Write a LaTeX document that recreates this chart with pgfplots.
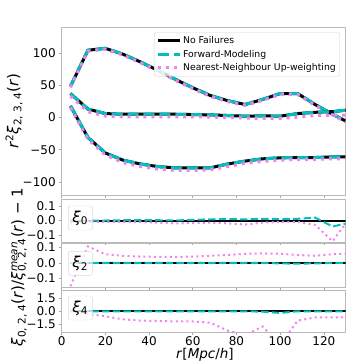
\documentclass[border=0pt]{standalone}
\usepackage{fontspec}
\setmainfont{DejaVu Sans}
\usepackage{pgfplots}
\pgfplotsset{compat=1.18}
\usepackage{pgfplotstable}

\definecolor{fwd}{RGB}{0,191,191}
\definecolor{nnup}{RGB}{238,130,238}
\newcommand\tickfont{\fontsize{12}{14}\selectfont}
\newcommand\labfont{\fontsize{15}{17}\selectfont}

% main panel: r^2 xi_l(r), l = 0 (m0), 2 (m2), 4 (m4)
\pgfplotstableread{
r    m0    m2    m4    n0     n2    n4
4    48    18    37    46.5   15    33
12   104  -31    13    102.5 -34    9
20   107  -55    6     105.5 -58    2
28   98   -66    5     96.5  -70    1
36   86   -72    5     84.5  -76    1
44   73   -76    5     71.5  -80    1
52   59   -78    5     57.5  -82    1
60   46   -78    4.5   44.5  -82    1
68   34   -78    4     32.5  -81    0.5
76   26   -72    3     24.5  -76    0
84   20   -67.5  2     18.5  -71   -1
92   28   -64    2.5   26.5  -68   -1.5
100  37   -62.5  2     35.5  -66   -1.5
108  37   -62    6     35.5  -65    0.5
116  20   -62    8     18.5  -65    3
124  5    -61    9     3.5   -64    3.5
132  -9   -61    12   -10.5  -64    3.5
}\mainT

% ratio panels: xi_l / xi_l^mean - 1
\pgfplotstableread{
r    c0      c2      c4     n0      n2      n4
4    0.0     0.0     0.0   -0.02   -0.15    0.0
12   0.0     0.0     0.0   -0.008   0.105  -0.3
20   0.0     0.0     0.0   -0.01    0.055  -0.6
28   0.002   0.0     0.0   -0.01    0.045  -0.95
36   0.003   0.0     0.0   -0.012   0.04   -1.1
44   0.002   0.0     0.0   -0.015   0.038  -1.15
52   0.0     0.0     0.0   -0.02    0.038  -1.2
60   0.005   0.0     0.0   -0.018   0.04   -1.2
68   0.008   0.0     0.0   -0.015   0.045  -1.35
76   0.01    0.0     0.0   -0.02    0.05   -2.28
84   0.008   0.0     0.0   -0.028   0.058  -2.8
92   0.012   0.0    -0.05  -0.015   0.06   -1.8
100  0.01   -0.004  -0.2   -0.01    0.058  -4.0
108  0.012  -0.005   0.0   -0.01    0.05   -1.1
116  0.02   -0.004   0.0   -0.03    0.045  -0.72
124 -0.042   0.0     0.0   -0.145   0.055  -0.72
132 -0.015   0.0     0.0    0.02    0.06   -0.7
}\ratioT

\pgfplotsset{
  base/.style={
    scale only axis, width=284pt,
    xmin=0, xmax=130, xtick={0,20,...,120},
    axis line style={gray!55, line width=0.6pt},
    every tick/.style={gray!70, line width=0.6pt},
    tick align=outside, major tick length=2.5pt, tick pos=left,
    ticklabel style={font=\tickfont},
    /pgf/number format/assume math mode=true,
  },
  nf/.style={black, line width=3pt},
  fm/.style={fwd, line width=3pt, dash pattern=on 11.1pt off 4.8pt},
  nn/.style={nnup, line width=3pt, dash pattern=on 3pt off 4.95pt},
  nfs/.style={black, line width=2pt},
  fms/.style={fwd, line width=2pt, dash pattern=on 7.4pt off 3.2pt},
  nns/.style={nnup, line width=2pt, dash pattern=on 2pt off 3.3pt},
}
\tikzset{
  tag/.style={draw=gray!30, rounded corners=2pt, fill=white, fill opacity=0.8,
    text opacity=1, minimum width=24pt, minimum height=24pt, inner sep=0pt,
    font=\labfont},
}

\begin{document}
\begin{tikzpicture}
\useasboundingbox (0pt,0pt) rectangle (354pt,-362pt);

\begin{axis}[base, at={(61.7pt,-27pt)}, anchor=north west, height=168pt,
  ymin=-120, ymax=140, ytick={-100,-50,0,50,100},
  yticklabels={−100,−50,0,50,100}, xticklabels={},
  legend cell align=left,
  legend image code/.code={\draw[#1] (0pt,0pt) -- (22pt,0pt);},
  legend style={at={(1,1)}, anchor=north east, xshift=-5.7pt, yshift=-5.3pt,
    draw=gray!35, rounded corners=2pt, fill=white, fill opacity=0.8,
    text opacity=1, font=\fontsize{9.3}{11}\selectfont, row sep=1pt,
    inner sep=2pt}]
\addplot[nf] table[x=r, y=m0] {\mainT};
\addlegendentry{No Failures}
\addplot[fm] table[x=r, y=m0] {\mainT};
\addlegendentry{Forward-Modeling}
\addplot[nn] table[x=r, y=n0] {\mainT};
\addlegendentry{Nearest-Neighbour Up-weighting}
\addplot[nf, forget plot] table[x=r, y=m2] {\mainT};
\addplot[fm, forget plot] table[x=r, y=m2] {\mainT};
\addplot[nn, forget plot] table[x=r, y=n2] {\mainT};
\addplot[nf, forget plot] table[x=r, y=m4] {\mainT};
\addplot[fm, forget plot] table[x=r, y=m4] {\mainT};
\addplot[nn, forget plot] table[x=r, y=n4] {\mainT};
\end{axis}

\begin{axis}[base, at={(61.7pt,-199pt)}, anchor=north west, height=43pt,
  ymin=-0.15, ymax=0.15, ytick={-0.1,0,0.1},
  yticklabels={−0.1,0.0,0.1}, xticklabels={}]
\addplot[nfs] coordinates {(4,0) (132,0)};
\addplot[fms] table[x=r, y=c0] {\ratioT};
\addplot[nns] table[x=r, y=n0] {\ratioT};
\node[tag] at (rel axis cs:0.0655,0.558) {\textit{ξ}\textsubscript{0}};
\end{axis}

\begin{axis}[base, at={(61.7pt,-243.3pt)}, anchor=north west, height=43.7pt,
  ymin=-0.155, ymax=0.125, ytick={-0.1,0,0.1},
  yticklabels={−0.1,0.0,0.1}, xticklabels={}]
\addplot[nfs] coordinates {(4,0) (132,0)};
\addplot[fms] table[x=r, y=c2] {\ratioT};
\addplot[nns] table[x=r, y=n2] {\ratioT};
\node[tag] at (rel axis cs:0.0655,0.542) {\textit{ξ}\textsubscript{2}};
\end{axis}

\begin{axis}[base, at={(61.7pt,-290pt)}, anchor=north west, height=42.5pt,
  ymin=-2.5, ymax=2.5, ytick={-1.5,0,1.5},
  yticklabels={−1.5,0.0,1.5},
  xticklabel style={inner sep=1pt}]
\addplot[nfs] coordinates {(4,0) (132,0)};
\addplot[fms] table[x=r, y=c4] {\ratioT};
\addplot[nns] table[x=r, y=n4] {\ratioT};
\node[tag] at (rel axis cs:0.0655,0.576) {\textit{ξ}\textsubscript{4}};
\end{axis}

\node[rotate=90, font=\labfont] at (14pt,-111pt)
  {\textit{r}\textsuperscript{2}\textit{ξ}\textsubscript{2, 3, 4}(\textit{r})};
\node[rotate=90, font=\labfont] at (19pt,-267pt)
  {\textit{ξ}\textsubscript{0, 2, 4}(\textit{r})/\textit{ξ}\rlap{\textsuperscript{\textit{mean}}}\textsubscript{0, 2, 4}(\textit{r}) − 1};
\node[font=\fontsize{13.5}{15}\selectfont, inner sep=0pt] at (205pt,-355pt)
  {\textit{r}[\textit{Mpc}/\textit{h}]};
\end{tikzpicture}
\end{document}
